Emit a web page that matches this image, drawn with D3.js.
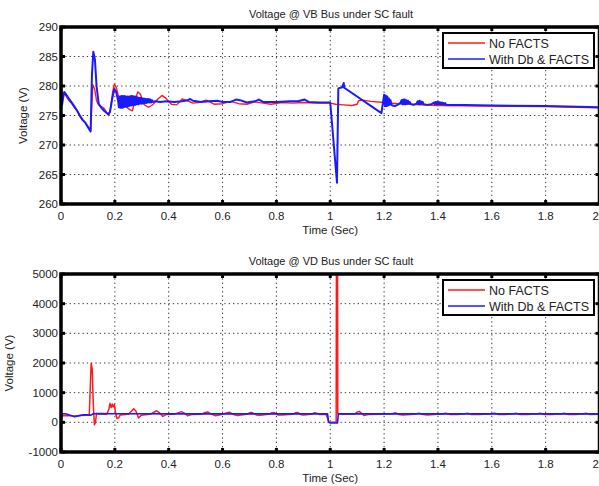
<!DOCTYPE html>
<html><head><meta charset="utf-8">
<script src="https://cdn.jsdelivr.net/npm/d3@7"></script>
<style>body{margin:0;background:#fff}svg{display:block}text{font-family:"Liberation Sans",Arial,sans-serif;fill:#222}</style>
</head><body><svg id="c" width="599" height="486"></svg>
<script>
// ---------- data ----------
const titles = ["Voltage @ VB Bus under SC fault", "Voltage @ VD Bus under SC fault"];
const legendLabels = ["No FACTS", "With Db & FACTS"];
const xTicks = [0,0.2,0.4,0.6,0.8,1,1.2,1.4,1.6,1.8,2];
const yTicksTop = [260,265,270,275,280,285,290];
const yTicksBot = [-1000,0,1000,2000,3000,4000,5000];

// VB bus, No FACTS (time, voltage)
const vbRedT = [0,0.004,0.008,0.012,0.02,0.03,0.04,0.05,0.06,0.07,0.08,0.09,0.1,0.11,0.118,0.125,0.132,0.14,0.15,0.16,0.17,0.178,0.185,0.192,0.198,0.205,0.215,0.225,0.24,0.255,0.265,0.275,0.285,0.295,0.31,0.325,0.34,0.36,0.375,0.39,0.41,0.43,0.45,0.47,0.49,0.51,0.54,0.57,0.6,0.63,0.66,0.69,0.72,0.75,0.78,0.82,0.86,0.9,0.95,1.0,1.02,1.05,1.08,1.1,1.105,1.12,1.15,1.2,1.25,1.3,1.4,1.6,1.8,2.0];
const vbRedV = [280.3,279,278.2,278.8,278.2,277.5,277,276.3,275.8,274.8,274.2,273.8,273.2,272.5,280.2,279.5,277.5,276.8,276.5,276.2,275.5,275,276.5,279,280.3,279.8,278,277,276.6,276,275.8,277.5,279,278.6,276.8,276.4,276.8,277.8,278.4,277.9,276.9,276.8,277.8,277.5,277.1,277.2,277.6,276.9,277,277.4,277,276.9,277.3,277.1,276.9,277.2,277.1,277.2,277.1,277.1,276.9,276.8,276.7,276.9,277.5,277.6,277.4,277.2,277.0,276.9,276.7,276.6,276.5,276.3];

// VB bus, With Db & FACTS
const vbBlueT = [0,0.004,0.008,0.012,0.02,0.03,0.04,0.05,0.06,0.07,0.08,0.09,0.1,0.11,0.115,0.12,0.126,0.132,0.14,0.15,0.16,0.175,0.182,0.19,0.198,0.205,0.212,
 0.215,0.218,0.221,0.224,0.227,0.23,0.233,0.236,0.239,0.242,0.245,0.248,0.251,0.254,0.257,0.26,0.263,0.266,0.269,0.272,0.275,0.278,0.281,0.284,0.287,0.29,0.293,0.296,0.299,0.302,0.305,0.308,0.311,0.314,0.317,0.32,0.323,0.326,0.329,0.332,0.335,0.338,0.341,
 0.35,0.37,0.39,0.42,0.45,0.47,0.48,0.49,0.52,0.55,0.58,0.6,0.63,0.65,0.665,0.69,0.72,0.735,0.75,0.8,0.85,0.88,0.905,0.92,0.96,1.0,
 1.025,1.03,1.045,1.05,1.052,1.19,1.2,
 1.203,1.206,1.209,1.212,1.215,1.218,1.221,1.224,1.227,1.232,1.24,1.25,1.26,1.265,1.268,1.271,1.274,1.277,1.28,1.283,1.286,1.289,1.292,1.295,1.3,1.31,1.32,1.325,1.328,1.331,1.334,1.337,1.34,1.343,1.347,1.36,1.375,1.385,1.388,1.391,1.394,1.397,1.4,1.403,1.406,1.409,1.412,1.415,1.418,1.421,1.424,1.427,1.43,
 1.5,1.6,1.8,2.0];
const vbBlueV = [278.5,276.8,278,279,278.5,277.8,277.2,276.5,275.8,275,274.3,273.8,273,272.3,282,285.8,284.5,280,277,276.3,275.8,275.2,275.6,277.8,279.5,279,277.5,
 276.4,278.2,276.3,278.3,276.3,278.3,276.4,278.3,276.5,278.2,276.5,278.2,276.6,278.2,276.7,278.3,276.7,278.3,276.8,278.2,276.8,278.2,276.9,278.1,276.9,278.0,277.0,278.0,277.0,277.9,277.0,277.9,277.1,277.8,277.1,277.8,277.2,277.8,277.2,277.7,277.2,277.6,277.3,
 277.4,277.3,277.4,277.3,277.4,277.6,277.8,277.5,277.3,277.4,277.5,277.3,277.3,277.7,277.6,277.2,277.4,277.7,277.3,277.3,277.4,277.4,277.7,277.3,277.2,277.2,
 263.6,279.6,279.8,280.5,279.7,275.4,278.5,
 276.6,278.4,276.6,278.2,276.7,277.9,276.8,277.6,276.8,276.7,276.6,276.8,277.1,277.6,276.9,277.7,276.9,277.7,276.9,277.6,277.0,277.5,277.0,277.3,276.9,276.8,277.0,277.4,276.9,277.5,276.9,277.4,277.0,277.3,276.9,276.8,276.9,277.2,276.9,277.3,276.9,277.3,276.9,277.3,276.9,277.2,276.9,277.2,276.9,277.1,276.9,277.1,276.8,
 276.8,276.7,276.6,276.4];

// VD bus, No FACTS
const vdRedT = [0,0.003,0.01,0.03,0.05,0.07,0.09,0.105,0.108,0.112,0.116,0.12,0.124,0.128,0.132,0.14,0.17,0.178,0.182,0.186,0.19,0.194,0.198,0.202,0.208,0.214,0.22,0.25,0.262,0.27,0.278,0.288,0.298,0.33,0.345,0.355,0.365,0.378,0.39,0.42,0.435,0.447,0.46,0.47,0.485,0.52,0.535,0.545,0.56,0.575,0.6,0.615,0.627,0.64,0.655,0.69,0.7,0.71,0.725,0.74,0.77,0.782,0.792,0.805,0.82,0.86,0.87,0.88,0.89,0.9,0.93,0.94,0.95,0.96,0.985,0.995,1.022,1.024,1.026,1.028,1.05,1.09,1.1,1.107,1.115,1.125,1.14,1.18,1.23,1.243,1.255,1.27,1.31,1.33,1.345,1.36,1.41,1.43,1.445,1.47,1.5,1.51,1.525,1.55,1.6,1.61,1.625,1.65,1.68,1.69,1.705,1.73,1.77,1.78,1.795,1.82,1.86,1.87,1.885,1.91,1.94,1.95,1.965,2.0];
const vdRedV = [0,200,230,220,210,230,240,250,1000,1990,1800,600,-80,0,300,280,270,450,640,500,620,520,600,350,130,150,250,270,380,460,380,150,240,270,340,390,330,200,260,270,320,360,300,220,260,270,330,350,270,220,270,320,340,260,230,270,320,330,250,240,270,320,330,250,245,270,320,330,260,250,270,320,310,260,260,0,0,12000,12000,300,270,280,340,370,320,230,260,270,290,320,260,250,270,310,260,250,280,310,260,260,290,310,260,260,290,310,260,260,290,310,260,260,290,305,260,260,290,305,260,260,290,305,260,270];

// VD bus, With Db & FACTS
const vdBlueT = [0,0.004,0.02,0.04,0.05,0.06,0.08,0.1,0.11,0.12,0.14,0.2,0.5,0.99,0.994,1.0,1.027,1.03,1.5,2.0];
const vdBlueV = [0,300,280,220,190,210,250,250,240,290,300,290,285,285,0,-20,-20,285,285,285];

// ---------- drawing ----------
const svg = d3.select("#c");
const RED = "#ff1a1a", BLUE = "#1a1aff";

function panel(cfg) {
  const {top, bottom, left, right, yDomain, yTicks, title, titleY, yLabelX, series, legendY, idx} = cfg;
  const x = d3.scaleLinear().domain([0, 2]).range([left, right]);
  const y = d3.scaleLinear().domain(yDomain).range([bottom, top]);
  const g = svg.append("g");
  const clipId = "clip" + idx;
  svg.append("clipPath").attr("id", clipId).append("rect")
    .attr("x", left).attr("y", top).attr("width", right - left).attr("height", bottom - top);

  // grid
  g.selectAll(".gx").data(xTicks.slice(1, -1)).join("line")
    .attr("x1", d => x(d)).attr("x2", d => x(d)).attr("y1", top).attr("y2", bottom)
    .attr("stroke", "#333").attr("stroke-width", 1).attr("stroke-dasharray", "1.3,3");
  g.selectAll(".gy").data(yTicks.slice(1, -1)).join("line")
    .attr("y1", d => y(d)).attr("y2", d => y(d)).attr("x1", left).attr("x2", right)
    .attr("stroke", "#333").attr("stroke-width", 1).attr("stroke-dasharray", "1.3,3");

  // series
  const line = d3.line().x(d => x(d[0])).y(d => y(d[1]));
  const lg = g.append("g").attr("clip-path", `url(#${clipId})`);
  series.forEach(s => {
    const pts = s.t.map((t, i) => [t, s.v[i]]);
    lg.append("path").attr("d", line(pts)).attr("fill", "none")
      .attr("stroke", s.color).attr("stroke-width", s.w).attr("stroke-linejoin", "round");
  });

  // frame
  g.append("rect").attr("x", left).attr("y", top).attr("width", right - left).attr("height", bottom - top)
    .attr("fill", "none").attr("stroke", "#000").attr("stroke-width", 3.5);
  // ticks (inward, all sides)
  const tl = 4;
  xTicks.forEach(d => {
    g.append("line").attr("x1", x(d)).attr("x2", x(d)).attr("y1", bottom).attr("y2", bottom - tl).attr("stroke", "#000").attr("stroke-width", 3);
    g.append("line").attr("x1", x(d)).attr("x2", x(d)).attr("y1", top).attr("y2", top + tl).attr("stroke", "#000").attr("stroke-width", 3);
  });
  yTicks.forEach(d => {
    g.append("line").attr("y1", y(d)).attr("y2", y(d)).attr("x1", left).attr("x2", left + tl).attr("stroke", "#000").attr("stroke-width", 3);
    g.append("line").attr("y1", y(d)).attr("y2", y(d)).attr("x1", right).attr("x2", right - tl).attr("stroke", "#000").attr("stroke-width", 3);
  });

  // tick labels (last one kept inside the window)
  g.selectAll(".xl").data(xTicks).join("text")
    .attr("x", (d, i) => i === xTicks.length - 1 ? 599 : x(d)).attr("y", bottom + 16)
    .attr("text-anchor", (d, i) => i === xTicks.length - 1 ? "end" : "middle")
    .attr("font-size", 11.5).text(d => d3.format("~g")(d));
  g.selectAll(".yl").data(yTicks).join("text")
    .attr("x", left - 3).attr("y", d => y(d) + 4).attr("text-anchor", "end")
    .attr("font-size", 11.5).text(d => d);

  // labels
  g.append("text").attr("x", x(1)).attr("y", bottom + 30).attr("text-anchor", "middle")
    .attr("font-size", 11.5).text("Time (Sec)");
  g.append("text").attr("transform", `translate(${yLabelX},${(top + bottom) / 2}) rotate(-90)`)
    .attr("text-anchor", "middle").attr("font-size", 11.5).text("Voltage (V)");
  g.append("text").attr("x", 331).attr("y", titleY).attr("text-anchor", "middle")
    .attr("font-size", 11).text(title);

  // legend
  const lx = 443, lw = 151, lh = 35;
  g.append("rect").attr("x", lx).attr("y", legendY).attr("width", lw).attr("height", lh)
    .attr("fill", "#fff").attr("stroke", "#000").attr("stroke-width", 2);
  series.forEach((s, i) => {
    const yy = legendY + 10 + i * 16;
    g.append("line").attr("x1", lx + 5).attr("x2", lx + 42).attr("y1", yy).attr("y2", yy)
      .attr("stroke", s.color).attr("stroke-width", 1.6);
    g.append("text").attr("x", lx + 46).attr("y", yy + 4.5).attr("font-size", 12.5).text(legendLabels[i]);
  });
}

panel({idx: 0, top: 27, bottom: 204, left: 61, right: 599.5, yDomain: [260, 290], yTicks: yTicksTop,
  title: titles[0], titleY: 18, yLabelX: 27, legendY: 33,
  series: [{t: vbRedT, v: vbRedV, color: RED, w: 1.4}, {t: vbBlueT, v: vbBlueV, color: BLUE, w: 2}]});
panel({idx: 1, top: 274, bottom: 452, left: 61, right: 599.5, yDomain: [-1000, 5000], yTicks: yTicksBot,
  title: titles[1], titleY: 265, yLabelX: 13, legendY: 280,
  series: [{t: vdRedT, v: vdRedV, color: RED, w: 1.5}, {t: vdBlueT, v: vdBlueV, color: BLUE, w: 1.6}]});
</script></body></html>
